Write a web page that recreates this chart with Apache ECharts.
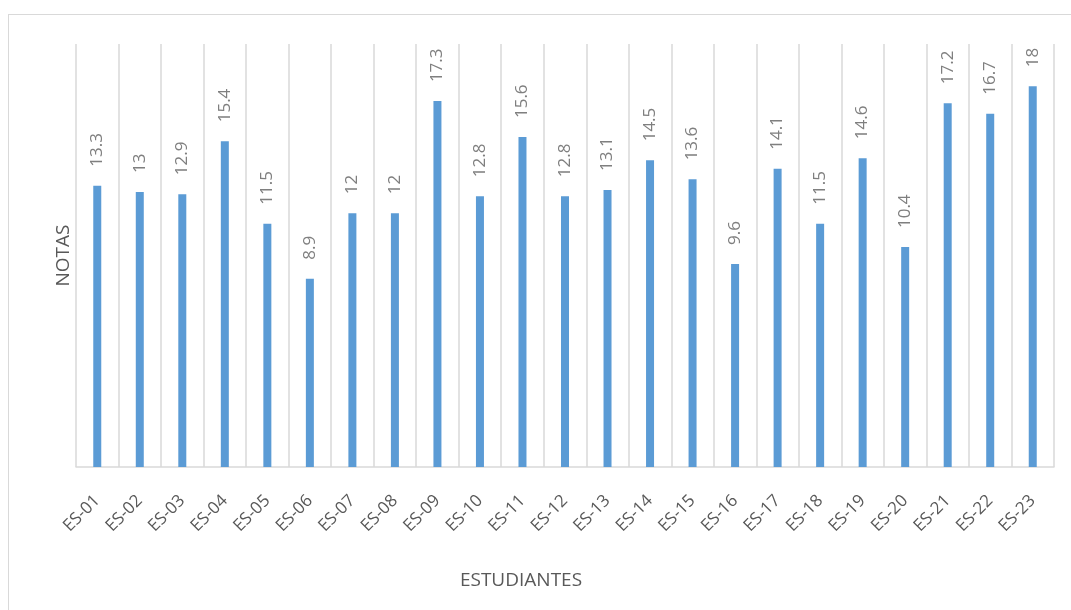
<!DOCTYPE html>
<html>
<head>
<meta charset="utf-8">
<script src="https://cdn.jsdelivr.net/npm/echarts@6/dist/echarts.min.js"></script>
<style>
html,body{margin:0;padding:0;background:#fff;overflow:hidden;}
#frame{position:absolute;left:8px;top:14px;width:1100px;height:650px;border:1.5px solid #d9d9d9;box-sizing:border-box;}
#chart{position:absolute;left:0;top:0;width:1071px;height:610px;}
</style>
</head>
<body>
<div id="frame"></div>
<div id="chart"></div>
<script>
const categories = ['ES-01','ES-02','ES-03','ES-04','ES-05','ES-06','ES-07','ES-08','ES-09','ES-10','ES-11','ES-12','ES-13','ES-14','ES-15','ES-16','ES-17','ES-18','ES-19','ES-20','ES-21','ES-22','ES-23'];
const notas = [13.3,13,12.9,15.4,11.5,8.9,12,12,17.3,12.8,15.6,12.8,13.1,14.5,13.6,9.6,14.1,11.5,14.6,10.4,17.2,16.7,18];
const xTitle = 'ESTUDIANTES';
const yTitle = 'NOTAS';

const chart = echarts.init(document.getElementById('chart'));
chart.setOption({
  animation: false,
  textStyle: {fontFamily: 'Open Sans'},
  grid: {left: 76, right: 17, top: 44, bottom: 143, containLabel: false},
  xAxis: {
    type: 'category',
    data: categories,
    name: xTitle,
    nameLocation: 'middle',
    nameGap: 104,
    nameTextStyle: {fontSize: 19, color: '#595959', padding: [0, 88, 0, 0]},
    axisLine: {lineStyle: {color: '#d9d9d9', width: 1.5}},
    axisTick: {show: false},
    splitLine: {show: true, lineStyle: {color: '#d9d9d9', width: 1.5}},
    axisLabel: {rotate: 45, fontSize: 17, color: '#595959', margin: 31, interval: 0}
  },
  yAxis: {
    type: 'value',
    min: 0, max: 20,
    name: yTitle,
    nameLocation: 'middle',
    nameGap: 3,
    nameTextStyle: {fontSize: 19, color: '#595959'},
    axisLine: {show: false},
    axisTick: {show: false},
    axisLabel: {show: false},
    splitLine: {show: false}
  },
  series: [{
    type: 'bar',
    data: notas,
    barWidth: 8,
    itemStyle: {color: '#5b9bd5'},
    label: {
      show: true,
      position: 'top',
      rotate: 90,
      align: 'left',
      verticalAlign: 'middle',
      distance: 17,
      fontSize: 17,
      color: '#7f7f7f',
      offset: [2, 0]
    }
  }]
});
</script>
</body>
</html>
